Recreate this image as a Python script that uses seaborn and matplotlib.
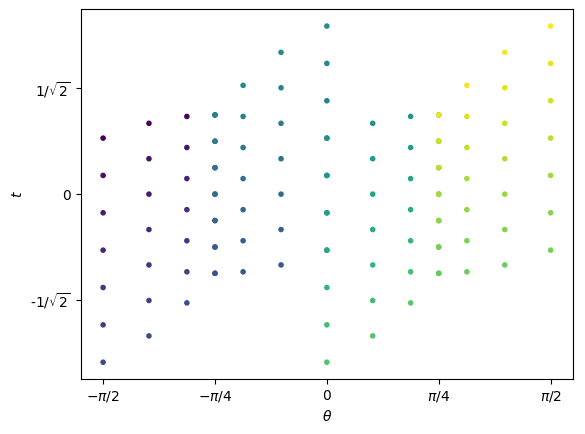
import numpy as np
import pandas as pd
import matplotlib
matplotlib.use("Agg")
import matplotlib.pyplot as plt
import seaborn as sns

# column angles (theta), 4 groups of 4 columns, drawn in this order
theta_cols = [-1.5708, -1.2490, -0.9828, -0.7854,
              -0.7854, -0.5880, -0.3218, 0.0,
              0.0, 0.3218, 0.5880, 0.7854,
              0.7854, 0.9828, 1.2490, 1.5708]

# t values per column, in drawing order
t_cols = [
    [0.375, 0.125, -0.125, -0.375, -0.625, -0.875, -1.125],
    [0.474, 0.237, 0.0, -0.237, -0.474, -0.712, -0.949],
    [0.520, 0.312, 0.104, -0.104, -0.312, -0.520, -0.728],
    [0.530, 0.354, 0.177, 0.0, -0.177, -0.354, -0.530],

    [-0.530, -0.354, -0.177, 0.0, 0.177, 0.354, 0.530],
    [-0.520, -0.312, -0.104, 0.104, 0.312, 0.520, 0.728],
    [-0.474, -0.237, 0.0, 0.237, 0.474, 0.712, 0.949],
    [-0.375, -0.125, 0.125, 0.375, 0.625, 0.875, 1.125],

    [0.375, 0.125, -0.125, -0.375, -0.625, -0.875, -1.125],
    [0.474, 0.237, 0.0, -0.237, -0.474, -0.712, -0.949],
    [0.520, 0.312, 0.104, -0.104, -0.312, -0.520, -0.728],
    [0.530, 0.354, 0.177, 0.0, -0.177, -0.354, -0.530],

    [-0.530, -0.354, -0.177, 0.0, 0.177, 0.354, 0.530],
    [-0.520, -0.312, -0.104, 0.104, 0.312, 0.520, 0.728],
    [-0.474, -0.237, 0.0, 0.237, 0.474, 0.712, 0.949],
    [-0.375, -0.125, 0.125, 0.375, 0.625, 0.875, 1.125],
]

x_ticks = [-np.pi / 2, -np.pi / 4, 0, np.pi / 4, np.pi / 2]
x_labels = [r"$-\pi/2$", r"$-\pi/4$", "0", r"$\pi/4$", r"$\pi/2$"]
y_ticks = [1 / np.sqrt(2), 0, -1 / np.sqrt(2)]
y_labels = [r"1/$\sqrt{2}$", "0", r"-1/$\sqrt{2}$"]

# points ordered group by group, row by row inside a group
rows = []
for g in range(4):
    for r in range(7):
        for c in range(4 * g, 4 * g + 4):
            rows.append((theta_cols[c], t_cols[c][r]))
df = pd.DataFrame(rows, columns=["theta", "t"])
df["order"] = np.arange(len(df))

fig = plt.figure(figsize=(5.85, 4.34), dpi=100)
ax = fig.add_axes([0.138, 0.1267, 0.8415, 0.852])

sns.scatterplot(data=df, x="theta", y="t", hue="order", palette="viridis",
                marker=".", s=36, linewidth=1, edgecolor="face",
                legend=False, ax=ax)

ax.set_xticks(x_ticks, labels=x_labels)
ax.set_yticks(y_ticks, labels=y_labels)
ax.set_xlabel(r"$\theta$")
ax.set_ylabel(r"$t$")

fig.savefig("out.png", dpi=100)
